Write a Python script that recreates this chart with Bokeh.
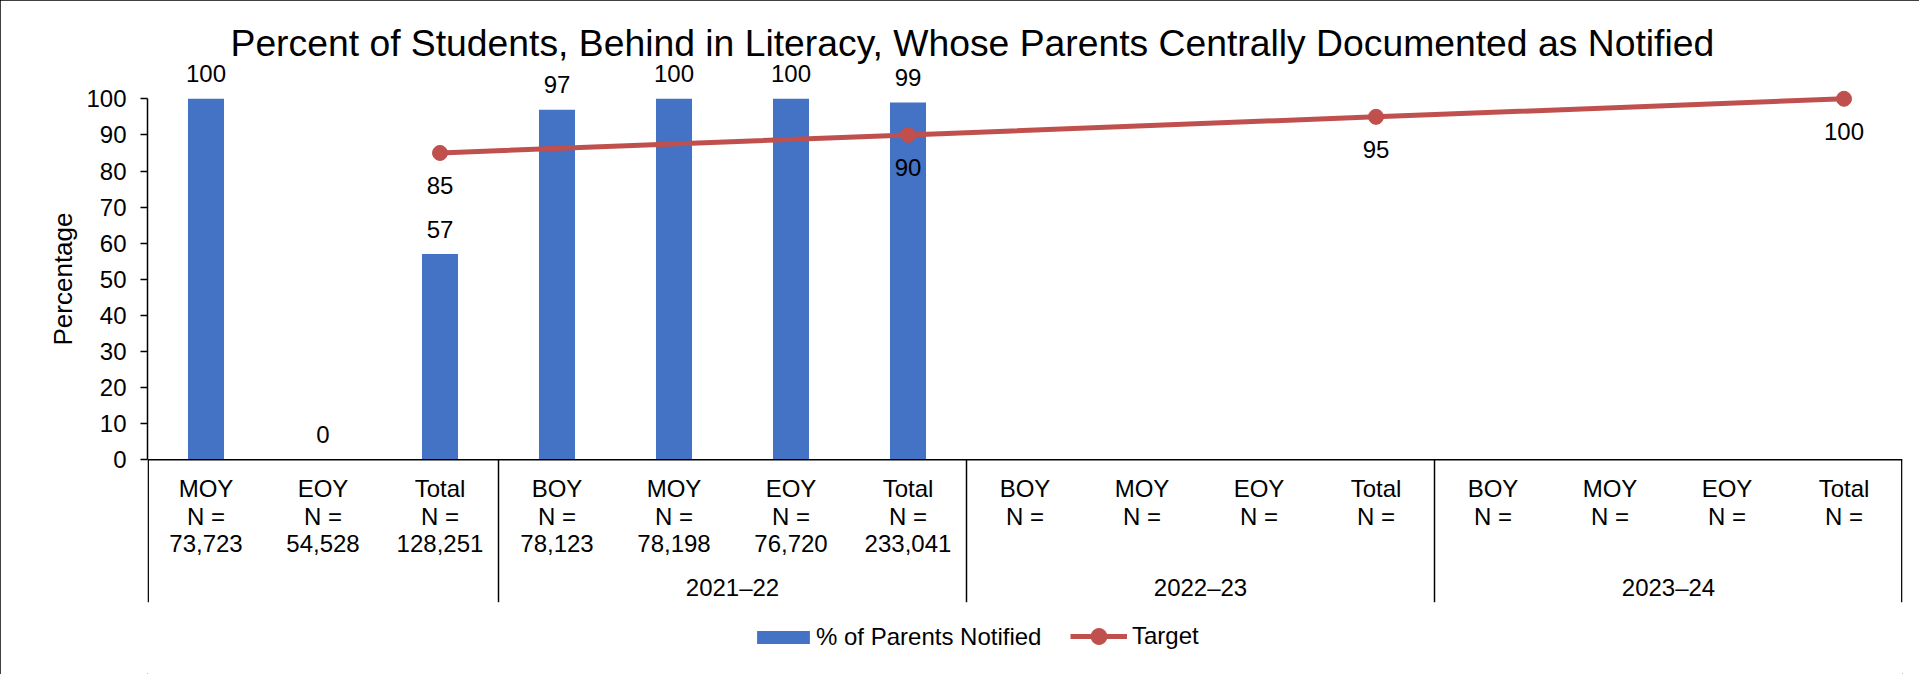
from bokeh.plotting import figure
from bokeh.models import Range1d, FixedTicker, Span, ColumnDataSource, Legend, LegendItem, Title
from bokeh.core.properties import value
from bokeh.embed import file_html
from bokeh.resources import INLINE

# ---------------- data ----------------
periods = ["MOY", "EOY", "Total",
           "BOY", "MOY", "EOY", "Total",
           "BOY", "MOY", "EOY", "Total",
           "BOY", "MOY", "EOY", "Total"]
n_counts = ["73,723", "54,528", "128,251",
            "78,123", "78,198", "76,720", "233,041",
            "", "", "", "",
            "", "", "", ""]
years = ["", "2021\u201322", "2022\u201323", "2023\u201324"]
year_sizes = [3, 4, 4, 4]
pct_notified = [100, 0, 57, 97, 100, 100, 99,
                None, None, None, None, None, None, None, None]
target = [None, None, 85, None, None, None, 90,
          None, None, None, 95, None, None, None, 100]
y_ticks = [0, 10, 20, 30, 40, 50, 60, 70, 80, 90, 100]

TITLE = "Percent of Students, Behind in Literacy, Whose Parents Centrally Documented as Notified"
Y_LABEL = "Percentage"
BAR_COLOR = "#4472C4"
TGT_COLOR = "#C0504D"
FONT = "Liberation Sans"

# ---------------- layout (figure pixels) ----------------
W, H = 1919, 674
FRAME_L, FRAME_R, FRAME_T, FRAME_B = 147, 1902, 62, 674
Y0_PX = 459.3
PX_PER_UNIT = 3.61
y_end = (Y0_PX - FRAME_T) / PX_PER_UNIT
y_start = -(FRAME_B - Y0_PX) / PX_PER_UNIT
n = len(periods)

p = figure(width=W, height=H, output_backend="svg", toolbar_location=None,
           x_range=Range1d(-0.5, n - 0.5), y_range=Range1d(y_start, y_end),
           min_border_left=FRAME_L, min_border_right=W - FRAME_R,
           min_border_top=FRAME_T, min_border_bottom=0,
           title=TITLE)
p.styles = {"outline": "1.5px solid black", "outline-offset": "-1.5px"}
p.xaxis.visible = False
p.xgrid.visible = False
p.ygrid.visible = False
p.outline_line_color = None
p.background_fill_color = "white"
p.border_fill_color = "white"

p.title.text_font = FONT
p.title.text_font_size = "37.3px"
p.title.text_font_style = "normal"
p.title.text_color = "black"
p.title.align = "left"
p.title.offset = 83
p.title.vertical_align = "bottom"
p.title.standoff = -3

yax = p.yaxis[0]
yax.ticker = FixedTicker(ticks=y_ticks)
yax.bounds = (0, 100)
yax.minor_tick_line_color = None
yax.major_tick_in = 0
yax.major_tick_out = 7
yax.major_tick_line_color = "black"
yax.major_tick_line_width = 1.5
yax.axis_line_color = "black"
yax.axis_line_width = 1.5
yax.major_label_standoff = 14
yax.major_label_text_font = FONT
yax.major_label_text_font_size = "24px"
yax.major_label_text_color = "black"

# y axis title, placed beside the 0-100 span of the axis
p.add_layout(Title(text=Y_LABEL, align="left", offset=FRAME_B - 345,
                   text_font=FONT, text_font_size="26px", text_font_style="normal",
                   text_color="black", standoff=10.5), "left")

# x axis line at zero
p.add_layout(Span(location=0, dimension="width", line_color="black", line_width=1.5))

# bars
bx = [i for i, v in enumerate(pct_notified) if v is not None]
bv = [v for v in pct_notified if v is not None]
bsrc = ColumnDataSource(dict(x=bx, top=bv, lab=[str(v) for v in bv]))
bars = p.vbar(x="x", top="top", width=0.308, source=bsrc, fill_color=BAR_COLOR, line_color=None)
p.text(x="x", y="top", text="lab", source=bsrc, text_align="center", text_baseline="middle",
       y_offset=-25, text_font=value(FONT), text_font_size="24px", text_color="black")

# target line
tx = [i for i, v in enumerate(target) if v is not None]
tv = [v for v in target if v is not None]
tsrc = ColumnDataSource(dict(x=tx, y=tv, lab=[str(v) for v in tv]))
tline = p.line(x="x", y="y", source=tsrc, line_color=TGT_COLOR, line_width=5)
tpts = p.scatter(x="x", y="y", source=tsrc, marker="circle", size=15, fill_color=TGT_COLOR, line_color=TGT_COLOR)
p.text(x="x", y="y", text="lab", source=tsrc, text_align="center", text_baseline="middle",
       y_offset=33, text_font=value(FONT), text_font_size="24px", text_color="black")

# category labels (three rows)
xs = list(range(n))
zeros = [0] * n
csrc = ColumnDataSource(dict(x=xs, y=zeros, per=periods, neq=["N =" for _ in periods], cnt=n_counts))
for col, off in (("per", 29), ("neq", 56.7), ("cnt", 84)):
    p.text(x="x", y="y", text=col, source=csrc, text_align="center", text_baseline="middle",
           y_offset=off, text_font=value(FONT), text_font_size="24px", text_color="black")

# group labels and separators
starts = []
s = 0
for sz in year_sizes:
    starts.append(s)
    s += sz
gx = [st + (sz - 1) / 2 for st, sz in zip(starts, year_sizes)]
gsrc = ColumnDataSource(dict(x=gx, y=[0] * len(gx), lab=years))
p.text(x="x", y="y", text="lab", source=gsrc, text_align="center", text_baseline="middle",
       y_offset=127.4, text_font=value(FONT), text_font_size="24px", text_color="black")
sep_x = [st - 0.5 for st in starts] + [n - 0.5]
sep_x[0] += 0.006
sep_x[-1] -= 0.006
sep_bottom = -142.4 / PX_PER_UNIT
p.segment(x0=sep_x, y0=[0] * len(sep_x), x1=sep_x, y1=[sep_bottom] * len(sep_x),
          line_color="black", line_width=1.5)

# legends
common = dict(orientation="horizontal", padding=0, margin=0,
              border_line_color=None, background_fill_alpha=0,
              label_text_font=FONT, label_text_font_size="24px", label_text_color="black")
leg1 = Legend(items=[LegendItem(label="% of Parents Notified", renderers=[bars])],
              location=(603, 23), glyph_width=66, glyph_height=16, label_standoff=-2, **common)
leg2 = Legend(items=[LegendItem(label="Target", renderers=[tline, tpts])],
              location=(923, 18), glyph_width=57, glyph_height=40, label_standoff=5, **common)
p.add_layout(leg1)
p.add_layout(leg2)

open("out.html", "w").write(file_html(p, INLINE))
